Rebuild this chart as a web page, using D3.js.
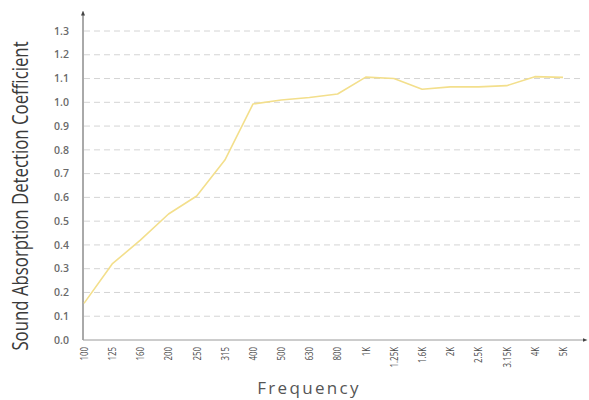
<!DOCTYPE html>
<html>
<head>
<meta charset="utf-8">
<script src="https://cdn.jsdelivr.net/npm/d3@7"></script>
<style>
  body { margin: 0; background: #fff; }
  svg { display: block; }
</style>
</head>
<body>
<div id="chart"></div>
<script>
// values
const frequencies = ["100", "125", "160", "200", "250", "315", "400", "500", "630", "800",
  "1K", "1.25K", "1.6K", "2K", "2.5K", "3.15K", "4K", "5K"];
const coefficients = [0.154, 0.32, 0.42, 0.53, 0.606, 0.757, 0.993, 1.01, 1.02, 1.035,
  1.106, 1.10, 1.055, 1.065, 1.065, 1.07, 1.108, 1.105];
const yTicks = [0, 0.1, 0.2, 0.3, 0.4, 0.5, 0.6, 0.7, 0.8, 0.9, 1.0, 1.1, 1.2, 1.3];

const width = 589, height = 400;
const plotLeft = 83, plotBottom = 340, plotTop = 31;

const svg = d3.select("#chart").append("svg")
  .attr("width", width)
  .attr("height", height);

const x = d3.scalePoint()
  .domain(frequencies)
  .range([84, 563]);

const y = d3.scaleLinear()
  .domain([0, 1.3])
  .range([plotBottom, plotTop]);

// dashed gridlines
svg.append("g")
  .selectAll("line")
  .data(yTicks.filter(d => d > 0))
  .join("line")
  .attr("x1", plotLeft + 1)
  .attr("x2", 580)
  .attr("y1", d => y(d))
  .attr("y2", d => y(d))
  .attr("stroke", "#d4d4d4")
  .attr("stroke-width", 1)
  .attr("stroke-dasharray", "6,4");

// y tick labels
svg.append("g")
  .selectAll("text")
  .data(yTicks)
  .join("text")
  .attr("x", 69)
  .attr("y", d => y(d))
  .attr("dy", "0.35em")
  .attr("text-anchor", "end")
  .style("font", "600 10.5px 'Open Sans', sans-serif")
  .attr("fill", "#6a6a6a")
  .text(d => d.toFixed(1));

// x tick labels, rotated
svg.append("g")
  .selectAll("text")
  .data(frequencies)
  .join("text")
  .attr("transform", d => `translate(${x(d)},347) rotate(-90) scale(0.72,1)`)
  .attr("dy", "0.35em")
  .attr("text-anchor", "end")
  .style("font", "11px 'Open Sans', sans-serif")
  .attr("fill", "#4a4a4a")
  .text(d => d);

// axes with arrows
const defs = svg.append("defs");
defs.append("marker")
  .attr("id", "arrow")
  .attr("viewBox", "0 0 10 10")
  .attr("refX", 5).attr("refY", 5)
  .attr("markerWidth", 5).attr("markerHeight", 5)
  .attr("orient", "auto")
  .append("path")
  .attr("d", "M0,1L10,5L0,9Z")
  .attr("fill", "#444");

svg.append("line")
  .attr("x1", plotLeft).attr("y1", plotBottom)
  .attr("x2", plotLeft).attr("y2", 13)
  .attr("stroke", "#555")
  .attr("stroke-width", 1)
  .attr("marker-end", "url(#arrow)");

svg.append("line")
  .attr("x1", plotLeft).attr("y1", plotBottom)
  .attr("x2", 585).attr("y2", plotBottom)
  .attr("stroke", "#9a9a9a")
  .attr("stroke-width", 1)
  .attr("marker-end", "url(#arrow)");

// data line
const line = d3.line()
  .x((d, i) => x(frequencies[i]))
  .y(d => y(d));

svg.append("path")
  .datum(coefficients)
  .attr("d", line)
  .attr("fill", "none")
  .attr("stroke", "#f3df8c")
  .attr("stroke-width", 1.6)
  .attr("stroke-linejoin", "round");

// axis titles (condensed look via horizontal scale)
svg.append("text")
  .attr("transform", "translate(28,196) rotate(-90) scale(0.8,1)")
  .attr("text-anchor", "middle")
  .style("font", "21px 'Open Sans', sans-serif")
  .attr("fill", "#3a3a3a")
  .text("Sound Absorption Detection Coefficient");

svg.append("text")
  .attr("x", 309)
  .attr("y", 394)
  .attr("text-anchor", "middle")
  .style("font", "17px 'Open Sans', sans-serif")
  .style("letter-spacing", "2.3px")
  .attr("fill", "#555")
  .text("Frequency");
</script>
</body>
</html>
